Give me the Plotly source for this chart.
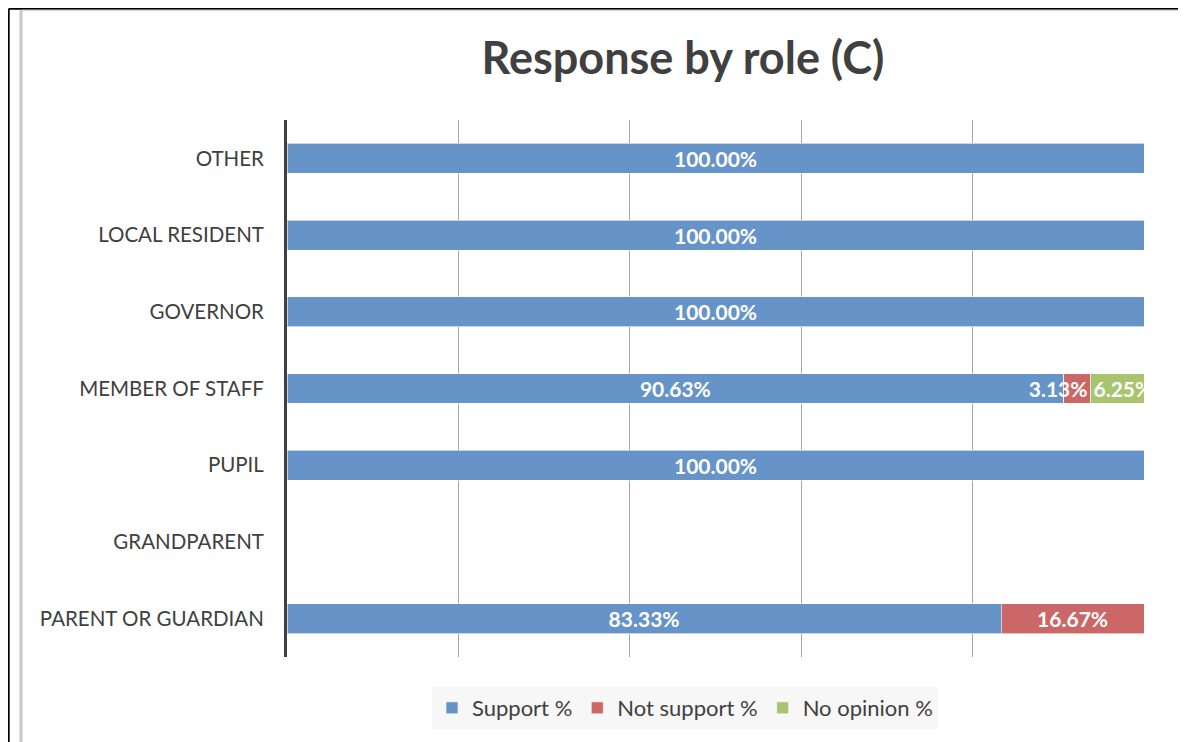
import plotly.graph_objects as go

categories = ["PARENT OR GUARDIAN", "GRANDPARENT", "PUPIL", "MEMBER OF STAFF",
              "GOVERNOR", "LOCAL RESIDENT", "OTHER"]
support = [83.33, None, 100.00, 90.63, 100.00, 100.00, 100.00]
not_support = [16.67, None, None, 3.13, None, None, None]
no_opinion = [None, None, None, 6.25, None, None, None]

BLUE, RED, GREEN = "#6794C8", "#CB6767", "#A8C46F"

FONT = "Lato"
OFF = 8  # page body margin
W, H = 1186 - OFF, 742 - OFF
L, R, T = 287 - OFF, 42, 120 - OFF
B = H - (657 - OFF)
pw, ph = W - L - R, H - T - B

def px(x):
    return (x - OFF - L) / pw

def py(y):
    return (H - B - (y - OFF)) / ph

def seg_trace(name, vals, col, anchor, show=True):
    return go.Bar(
        y=categories, x=vals, name=name, orientation="h", legendgroup=name, showlegend=show,
        marker=dict(color=col, line=dict(color="rgba(255,255,255,0.6)", width=1)),
        texttemplate="%{x:.2f}%", textposition="inside", insidetextanchor=anchor,
        textangle=0, constraintext="none",
        textfont=dict(family=FONT, size=21, color="white", weight="bold"),
    )

# split the small "not support" segment so its label can sit at its right end
ns_big = [v if (v is not None and v >= 10) else None for v in not_support]
ns_small = [v if (v is not None and v < 10) else None for v in not_support]

fig = go.Figure()
fig.add_trace(seg_trace("Support %", support, BLUE, "middle"))
fig.add_trace(seg_trace("Not support %", ns_big, RED, "middle"))
fig.add_trace(seg_trace("Not support %", ns_small, RED, "end", show=False))
fig.add_trace(seg_trace("No opinion %", no_opinion, GREEN, "start"))

fig.update_layout(
    width=W, height=H, barmode="stack", bargap=0.61,
    margin=dict(l=L, r=R, t=T, b=B),
    paper_bgcolor="white", plot_bgcolor="white",
    font=dict(family=FONT, color="#404040"),
    title=dict(text="<b>Response by role (C)</b>", x=px(683), xref="paper", xanchor="center",
               y=1 - (58 - OFF) / H, yref="container", yanchor="middle",
               font=dict(family=FONT, size=45, color="#404040")),
    xaxis=dict(range=[0, 100], dtick=20, showticklabels=False, showgrid=True,
               gridcolor="#A6A6A6", gridwidth=1, zeroline=False, showline=False, fixedrange=True),
    yaxis=dict(showline=True, linecolor="#404040", linewidth=3, showgrid=False,
               ticks="", ticklabelstandoff=16,
               tickfont=dict(family=FONT, size=20.5, color="#404040"),
               categoryorder="array", categoryarray=categories),
    legend=dict(orientation="h", x=px(685), xanchor="center", y=py(708), yanchor="middle",
                bgcolor="#F7F7F7", font=dict(family=FONT, size=22, color="#404040"),
                traceorder="normal", itemwidth=30),
    showlegend=True,
)

# page border lines
fig.add_shape(type="line", xref="paper", yref="paper", x0=px(8.7), x1=px(1186), y0=py(8.7), y1=py(8.7),
              line=dict(color="black", width=2))
fig.add_shape(type="line", xref="paper", yref="paper", x0=px(8.7), x1=px(8.7), y0=py(8.7), y1=py(742),
              line=dict(color="black", width=2))
fig.add_shape(type="line", xref="paper", yref="paper", x0=px(21), x1=px(1186), y0=py(10.5), y1=py(10.5),
              line=dict(color="#DCDCDC", width=1.5))
fig.add_shape(type="line", xref="paper", yref="paper", x0=px(21), x1=px(21), y0=py(10), y1=py(742),
              line=dict(color="#C8C8C8", width=3))

fig.write_html("out.html")
